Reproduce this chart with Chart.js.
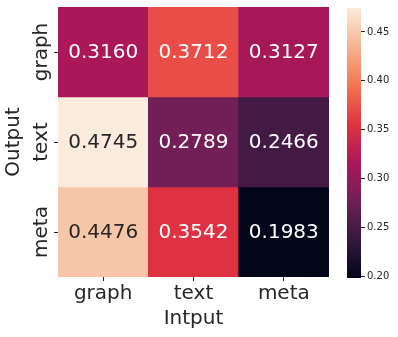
<!DOCTYPE html>
<html>
<head>
<meta charset="utf-8">
<script src="https://cdn.jsdelivr.net/npm/chart.js@4"></script>
<style>
  body { margin: 0; background: #fff; }
  #wrap { position: relative; width: 398px; height: 337px; }
  #heat { position: absolute; left: 0; top: 0; }
  #cbar { position: absolute; left: 330px; top: 0; }
</style>
</head>
<body>
<div id="wrap">
  <canvas id="heat" width="340" height="337"></canvas>
  <canvas id="cbar" width="68" height="337"></canvas>
</div>
<script>
// === DATA ===
const inputLabels = ['graph', 'text', 'meta'];   // columns (x)
const outputLabels = ['graph', 'text', 'meta'];  // rows (y)
const graphRow = [0.3160, 0.3712, 0.3127];
const textRow = [0.4745, 0.2789, 0.2466];
const metaRow = [0.4476, 0.3542, 0.1983];
const cbarTicks = [0.20, 0.25, 0.30, 0.35, 0.40, 0.45];

const rows = [graphRow, textRow, metaRow];
const allVals = rows.flat();
const vmin = Math.min(...allVals);
const vmax = Math.max(...allVals);

// === ROCKET COLORMAP (approx) ===
const rocket = [
  [0, [3, 5, 26]],
  [1/7, [53, 25, 62]],
  [2/7, [112, 31, 87]],
  [3/7, [173, 23, 89]],
  [4/7, [225, 51, 66]],
  [5/7, [243, 118, 81]],
  [6/7, [246, 180, 143]],
  [1, [250, 235, 221]]
];

function cmap(v) {
  let t = (v - vmin) / (vmax - vmin);
  t = Math.max(0, Math.min(1, t));
  for (let i = 1; i < rocket.length; i++) {
    if (t <= rocket[i][0]) {
      let a = rocket[i-1], b = rocket[i];
      let f = (t - a[0]) / (b[0] - a[0]);
      let c = a[1].map((x, k) => Math.round(x + (b[1][k] - x) * f));
      return 'rgb(' + c.join(',') + ')';
    }
  }
  return 'rgb(250,235,221)';
}

function textColor(v) {
  // light cells get dark text, like seaborn
  let t = (v - vmin) / (vmax - vmin);
  return t > 0.8 ? '#262626' : '#ffffff';
}

const FONT = 'DejaVu Sans';
const INK = '#262626';

// === CELL LABELS ===
const annotate = {
  id: 'annotate',
  afterDatasetsDraw(chart) {
    let ctx = chart.ctx;
    ctx.save();
    ctx.font = '20px "' + FONT + '"';
    ctx.textAlign = 'center';
    ctx.textBaseline = 'middle';
    chart.data.datasets.forEach((ds, i) => {
      chart.getDatasetMeta(i).data.forEach((el, j) => {
        let p = el.getCenterPoint();
        let v = rows[i][j];
        ctx.fillStyle = textColor(v);
        ctx.fillText(v.toFixed(4), p.x, p.y + 1);
      });
    });
    ctx.restore();
  }
};

// === ROTATED Y TICK LABELS ===
const yLabels = {
  id: 'yLabels',
  afterDraw(chart) {
    let ctx = chart.ctx;
    let sc = chart.scales.y;
    ctx.save();
    ctx.font = '20px "' + FONT + '"';
    ctx.fillStyle = INK;
    ctx.textAlign = 'center';
    ctx.textBaseline = 'alphabetic';
    sc.ticks.forEach((tk, i) => {
      let py = sc.getPixelForValue(tk.value);
      ctx.save();
      ctx.translate(sc.right - 11, py);
      ctx.rotate(-Math.PI / 2);
      ctx.fillText(outputLabels[i], 0, 0);
      ctx.restore();
    });
    ctx.restore();
  }
};

// === HEATMAP ===
new Chart(document.getElementById('heat'), {
  type: 'bar',
  data: {
    labels: inputLabels,
    datasets: rows.map((r, i) => ({
      label: outputLabels[i],
      data: r.map(() => [i, i + 1]),
      backgroundColor: r.map(cmap),
      borderWidth: 0,
      barPercentage: 1,
      categoryPercentage: 1,
      grouped: false
    }))
  },
  options: {
    responsive: false,
    animation: false,
    layout: { padding: { top: 7, right: 11, bottom: 6, left: 0 } },
    plugins: { legend: { display: false }, tooltip: { enabled: false } },
    scales: {
      x: {
        grid: { offset: false, drawOnChartArea: false, tickLength: 4, tickColor: INK },
        border: { display: false },
        ticks: { color: INK, padding: 1, font: { family: FONT, size: 20 } },
        title: { display: true, text: 'Intput', color: INK, padding: 0, font: { family: FONT, size: 20 } }
      },
      y: {
        reverse: true,
        min: 0,
        max: 3,
        afterBuildTicks: (s) => { s.ticks = outputLabels.map((_, i) => ({ value: i + 0.5 })); },
        grid: { drawOnChartArea: false, tickLength: 4, tickColor: INK },
        border: { display: false },
        ticks: { display: false },
        title: { display: true, text: 'Output', color: INK, padding: { top: 2, bottom: 28 }, font: { family: FONT, size: 20 } }
      }
    }
  },
  plugins: [annotate, yLabels]
});

// === COLORBAR ===
function cbarFill(c) {
  let ca = c.chart.chartArea;
  if (!ca) return null;
  let g = c.chart.ctx.createLinearGradient(0, ca.bottom, 0, ca.top);
  rocket.forEach(s => g.addColorStop(s[0], 'rgb(' + s[1].join(',') + ')'));
  return g;
}

new Chart(document.getElementById('cbar'), {
  type: 'bar',
  data: {
    labels: [''],
    datasets: [{
      data: [[vmin, vmax]],
      backgroundColor: cbarFill,
      borderWidth: 0,
      barPercentage: 1,
      categoryPercentage: 1
    }]
  },
  options: {
    responsive: false,
    animation: false,
    layout: { padding: { top: 6, right: 7, bottom: 59, left: 17 } },
    plugins: { legend: { display: false }, tooltip: { enabled: false } },
    scales: {
      x: { display: false },
      y: {
        position: 'right',
        min: vmin,
        max: vmax,
        afterBuildTicks: (s) => { s.ticks = cbarTicks.map(v => ({ value: v })); },
        afterFit: (s) => { s.width = 30; },
        grid: { drawOnChartArea: false, tickLength: 4, tickColor: INK },
        border: { display: false },
        ticks: { color: INK, padding: 2, font: { family: FONT, size: 10 }, callback: v => v.toFixed(2) }
      }
    }
  }
});
</script>
</body>
</html>
